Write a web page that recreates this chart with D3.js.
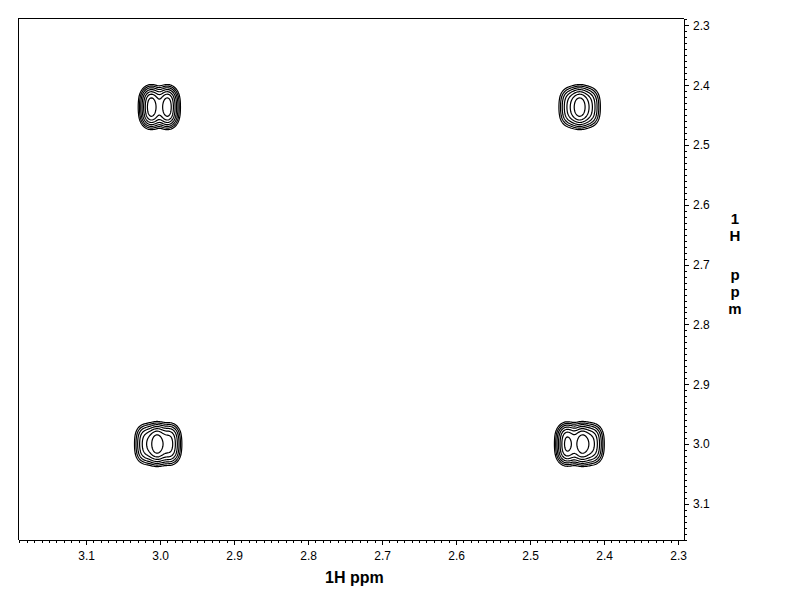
<!DOCTYPE html>
<html><head><meta charset="utf-8">
<script src="https://cdn.jsdelivr.net/npm/d3@7/dist/d3.min.js"></script>
<style>body{margin:0;background:#fff}svg{display:block}</style>
</head><body>
<svg id="chart" width="792" height="612"></svg>
<script>
// ---------- data ----------
const xTickValues = [3.1, 3.0, 2.9, 2.8, 2.7, 2.6, 2.5, 2.4, 2.3];
const yTickValues = [2.3, 2.4, 2.5, 2.6, 2.7, 2.8, 2.9, 3.0, 3.1];
const xDomain = [3.192, 2.292];
const yDomain = [2.2875, 3.1605];
const xLabel = "1H ppm";
const yLabel = "1H ppm";

// four cross peaks: multiplet lines in each dimension (ppm) and their relative amplitudes
const peakXLines = [[3.012, 2.990], [2.447, 2.433, 2.419], [3.020, 3.004, 2.9865], [2.450, 2.430, 2.415]];
const peakXAmps  = [[1, 1], [0.4, 1, 0.4], [0.45, 1, 0.65], [0.95, 1, 0.55]];
const peakYLines = [[2.421, 2.4365, 2.452], [2.421, 2.4365, 2.452], [2.9845, 3.000, 3.0155], [2.9845, 3.000, 3.0155]];
const peakYAmps  = [[0.9, 1, 0.9], [0.9, 1, 0.9], [0.9, 1, 0.9], [0.9, 1, 0.9]];
const peakHeights = [1, 1, 1, 1];
const lineWidthX = 0.0074;   // ppm (gaussian sigma)
const lineWidthY = 0.0105;
const contourLevels = [0.06, 0.1, 0.16, 0.25, 0.38, 0.55, 0.78];

// ---------- layout ----------
const svg = d3.select("#chart");
const mLeft = 18, mTop = 18, mRight = 684, mBottom = 540;
const font = "'Liberation Sans', Arial, Helvetica, sans-serif";

const x = d3.scaleLinear().domain(xDomain).range([mLeft, mRight]);
const y = d3.scaleLinear().domain(yDomain).range([mTop, mBottom]);

// ---------- intensity field ----------
const gauss = (d, s) => Math.exp(-d * d / (2 * s * s));
function profile(lines, amps, s) {
  return v => d3.sum(lines, (c, i) => amps[i] * gauss(v - c, s));
}
const peaks = peakXLines.map((xl, k) => {
  const fx = profile(xl, peakXAmps[k], lineWidthX);
  const fy = profile(peakYLines[k], peakYAmps[k], lineWidthY);
  const mx = d3.max(d3.range(-0.06, 0.06, 0.0005), d => fx(d3.mean(xl) + d));
  const my = d3.max(d3.range(-0.06, 0.06, 0.0005), d => fy(d3.mean(peakYLines[k]) + d));
  return {fx, fy, mx, my, h: peakHeights[k]};
});

const nx = mRight - mLeft, ny = mBottom - mTop;
const gx = i => x.invert(mLeft + i);
const gy = j => y.invert(mTop + j);
const values = new Float64Array(nx * ny);
const colX = peaks.map(p => Float64Array.from({length: nx}, (_, i) => p.fx(gx(i + 0.5)) / p.mx));
const rowY = peaks.map(p => Float64Array.from({length: ny}, (_, j) => p.fy(gy(j + 0.5)) / p.my));
for (let j = 0; j < ny; j++) {
  for (let i = 0; i < nx; i++) {
    let v = 0;
    for (let k = 0; k < peaks.length; k++) v += peaks[k].h * colX[k][i] * rowY[k][j];
    values[j * nx + i] = v;
  }
}
const contours = d3.contours().size([nx, ny]).thresholds(contourLevels)(values);
const proj = d3.geoTransform({
  point(px, py) { this.stream.point(x(gx(px)), y(gy(py))); }
});
const path = d3.geoPath(proj);

svg.append("g")
  .selectAll("path")
  .data(contours)
  .join("path")
  .attr("d", path)
  .attr("fill", "none")
  .attr("stroke", "#000")
  .attr("stroke-width", 1.2);

// ---------- frame ----------
svg.append("path")
  .attr("d", `M${mLeft},${mBottom}V${mTop}H${mRight}`)
  .attr("fill", "none").attr("stroke", "#000").attr("stroke-width", 1)
  .attr("shape-rendering", "crispEdges");

// ---------- axes ----------
const xMinor = d3.range(229, 320).map(d => d / 100).filter(d => d <= xDomain[0] && d >= xDomain[1]);
const yMinor = d3.range(228, 317).map(d => d / 100).filter(d => d >= yDomain[0] && d <= yDomain[1]);

function styleAxis(g) {
  g.attr("font-family", font).attr("font-size", 12);
  g.selectAll("line, path").attr("stroke", "#000").attr("shape-rendering", "crispEdges");
  g.selectAll("text").attr("fill", "#000");
}

svg.append("g").attr("transform", `translate(0,${mBottom})`)
  .call(d3.axisBottom(x).tickValues(xMinor).tickSize(2.5).tickSizeOuter(0).tickFormat(""))
  .call(styleAxis);
svg.append("g").attr("transform", `translate(0,${mBottom})`)
  .call(d3.axisBottom(x).tickValues(xTickValues).tickSize(5).tickSizeOuter(0).tickPadding(6).tickFormat(d3.format(".1f")))
  .call(styleAxis);

svg.append("g").attr("transform", `translate(${mRight},0)`)
  .call(d3.axisRight(y).tickValues(yMinor).tickSize(2.5).tickSizeOuter(0).tickFormat(""))
  .call(styleAxis);
svg.append("g").attr("transform", `translate(${mRight},0)`)
  .call(d3.axisRight(y).tickValues(yTickValues).tickSize(5).tickSizeOuter(0).tickPadding(4).tickFormat(d3.format(".1f")))
  .call(styleAxis);

// ---------- axis titles ----------
svg.append("text")
  .attr("x", 325).attr("y", 583)
  .attr("font-family", font).attr("font-size", 16).attr("font-weight", "bold")
  .attr("fill", "#000")
  .text(xLabel);

const yTitle = svg.append("text")
  .attr("font-family", font).attr("font-size", 15).attr("font-weight", "bold")
  .attr("fill", "#000").attr("text-anchor", "middle");
let ty = 224;
for (const ch of yLabel) {
  if (ch === " ") { ty += 22; continue; }
  yTitle.append("tspan").attr("x", 735).attr("y", ty).text(ch);
  ty += 17;
}
</script>
</body></html>
